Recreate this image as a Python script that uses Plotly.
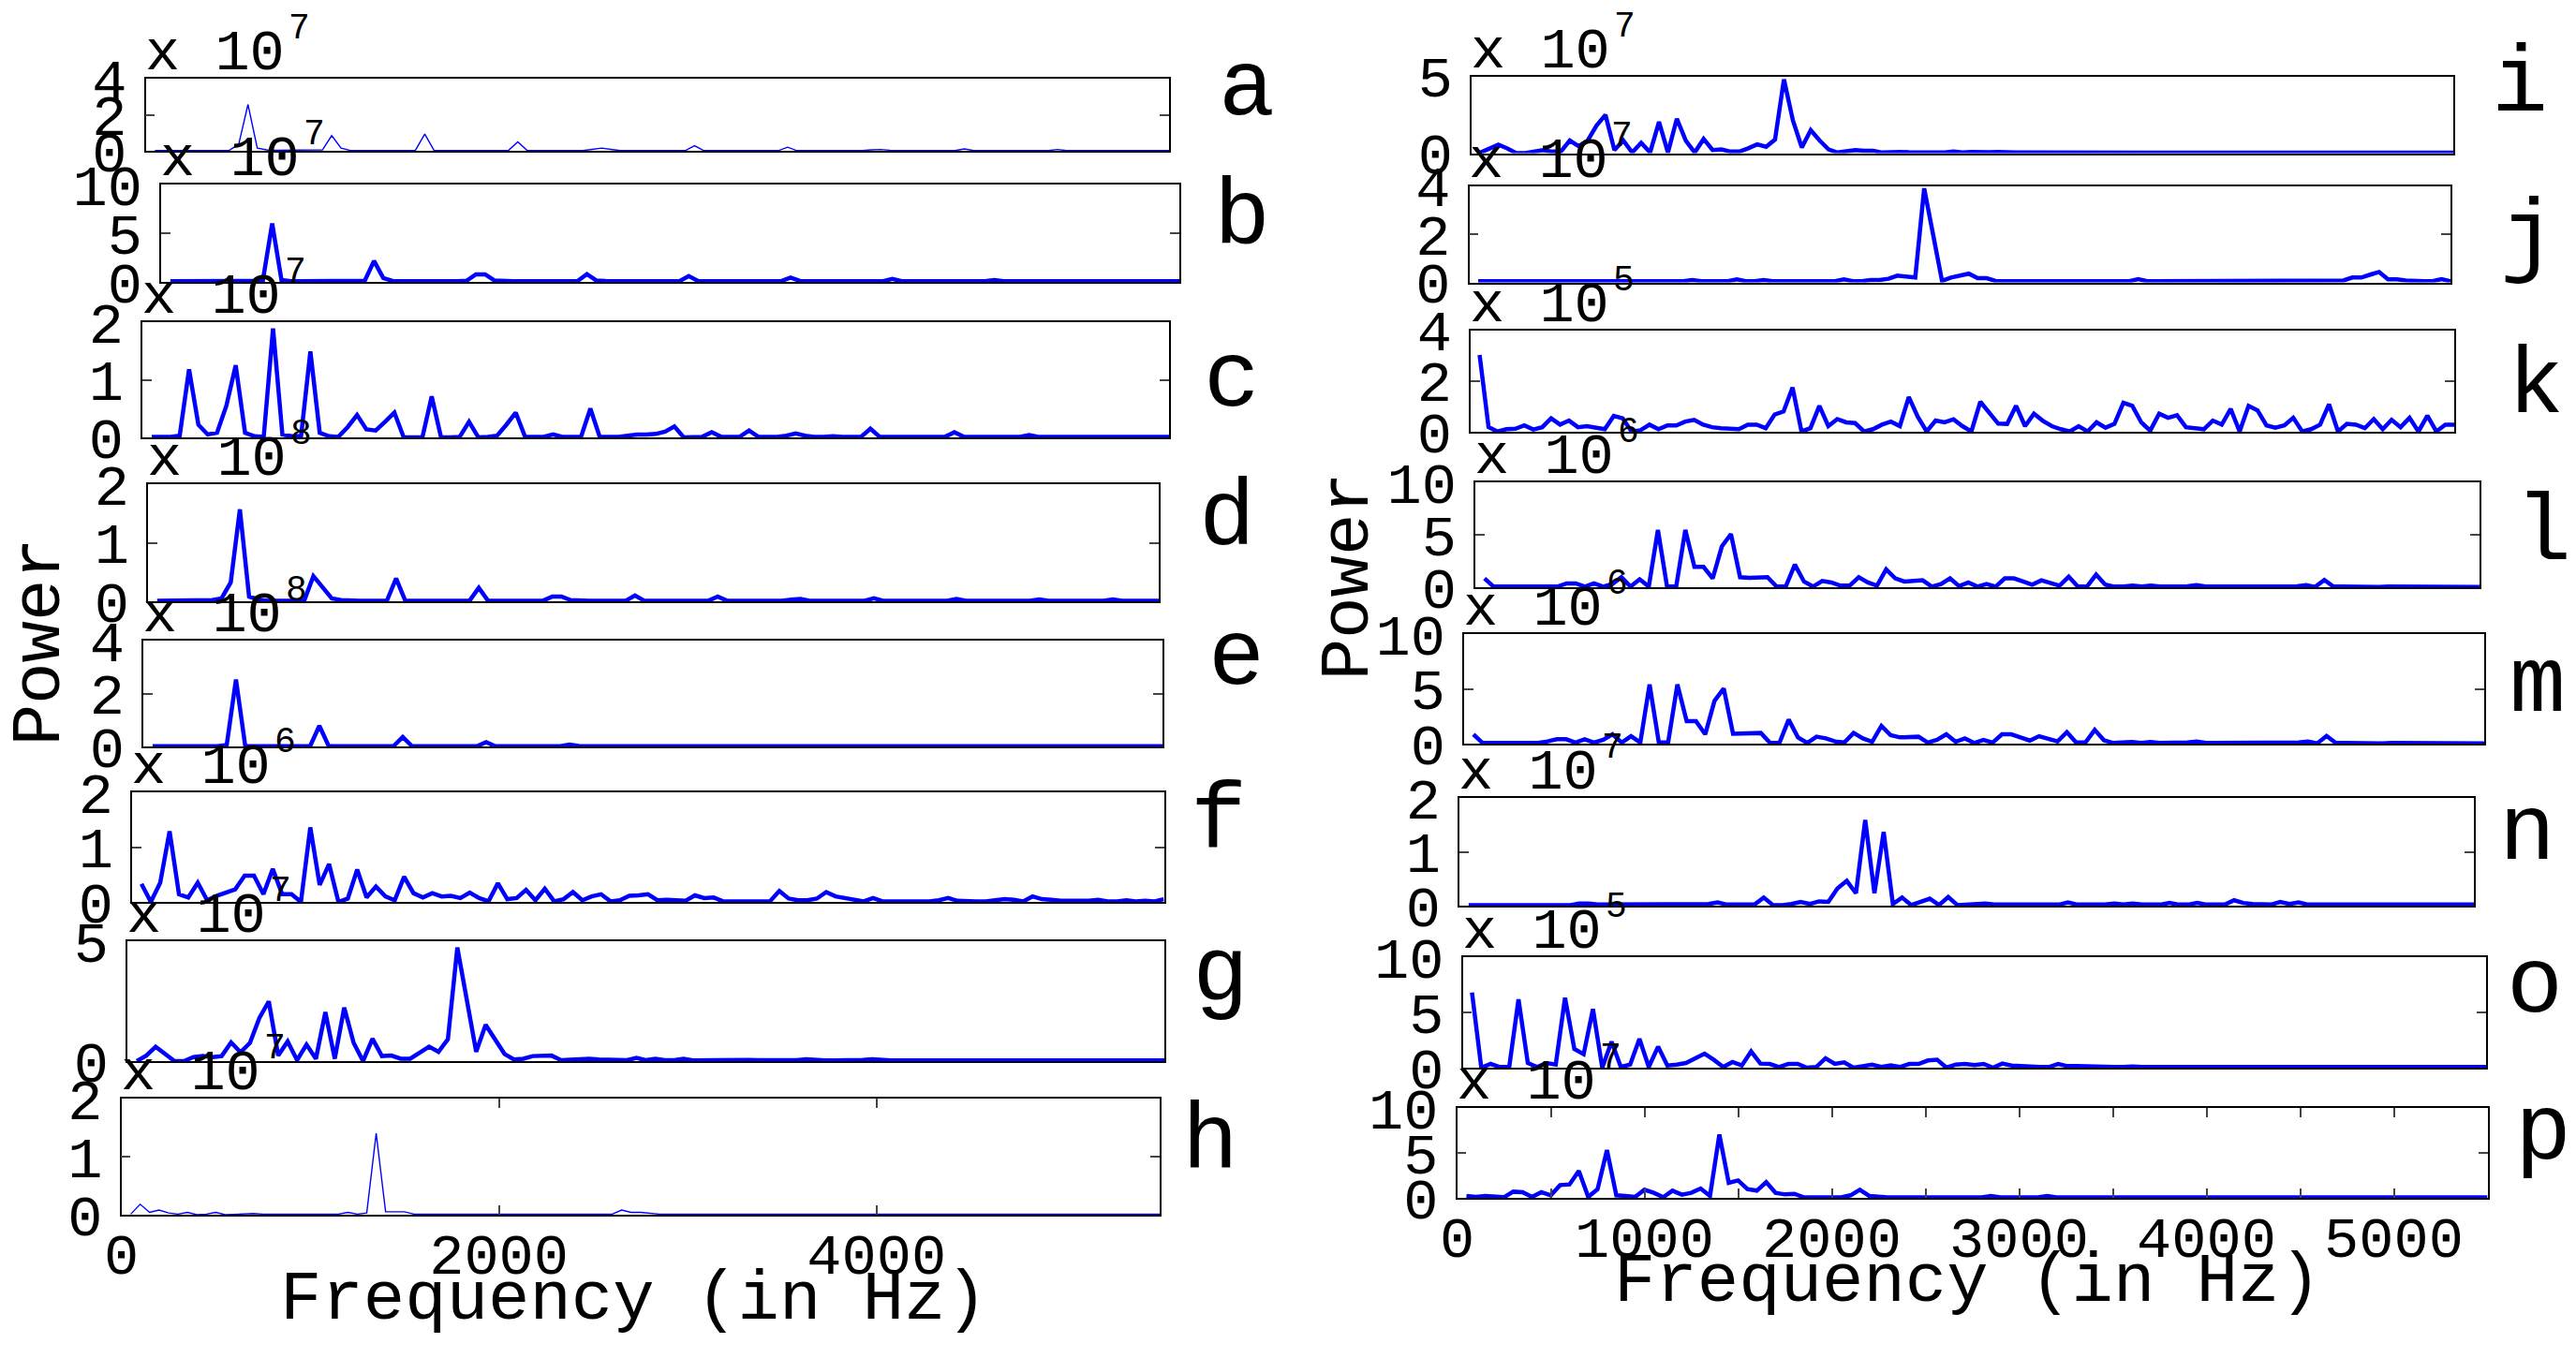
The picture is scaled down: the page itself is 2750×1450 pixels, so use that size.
import plotly.graph_objects as go

W, H = 2750, 1450
FONT = "Liberation Mono"

# Frequency bins (Hz) shared by all spectra
freq_hz = [50 * k for k in range(1, 111)]

# ---- Power spectra (values in units of the panel multiplier) ----
a_power = [
    0.02, 0.02, 0.02, 0.02, 0.02, 0.02, 0.02, 0.02, 0.03, 0.36,
    2.57, 0.15, 0.05, 0.03, 0.03, 0.03, 0.03, 0.03, 0.05, 0.84,
    0.15, 0.02, 0.02, 0.02, 0.02, 0.02, 0.02, 0.02, 0.03, 0.93,
    0.02, 0.01, 0.01, 0.01, 0.01, 0.01, 0.01, 0.01, 0.02, 0.50,
    0.02, 0.01, 0.01, 0.01, 0.01, 0.01, 0.01, 0.08, 0.15, 0.08,
    0.01, 0.01, 0.01, 0.01, 0.01, 0.01, 0.01, 0.01, 0.28, 0.01,
    0.01, 0.01, 0.01, 0.01, 0.01, 0.01, 0.01, 0.01, 0.20, 0.01,
    0.01, 0.01, 0.01, 0.01, 0.01, 0.01, 0.01, 0.05, 0.07, 0.03,
    0.01, 0.01, 0.01, 0.01, 0.01, 0.01, 0.01, 0.10, 0.01, 0.01,
    0.01, 0.01, 0.01, 0.01, 0.01, 0.01, 0.01, 0.07, 0.01, 0.01,
    0.01, 0.01, 0.01, 0.01, 0.01, 0.01, 0.01, 0.04, 0.01, 0.01]

b_power = [
    0.08, 0.08, 0.08, 0.08, 0.08, 0.08, 0.08, 0.08, 0.08, 0.10,
    0.20, 6.00, 0.20, 0.08, 0.08, 0.08, 0.08, 0.08, 0.08, 0.08,
    0.08, 0.12, 2.15, 0.40, 0.10, 0.08, 0.08, 0.08, 0.08, 0.08,
    0.08, 0.08, 0.12, 0.77, 0.77, 0.15, 0.08, 0.08, 0.08, 0.08,
    0.08, 0.08, 0.08, 0.08, 0.10, 0.80, 0.15, 0.10, 0.08, 0.08,
    0.08, 0.08, 0.08, 0.08, 0.08, 0.08, 0.60, 0.10, 0.08, 0.08,
    0.08, 0.08, 0.08, 0.08, 0.08, 0.08, 0.08, 0.45, 0.10, 0.08,
    0.08, 0.08, 0.08, 0.08, 0.08, 0.08, 0.08, 0.08, 0.30, 0.08,
    0.08, 0.08, 0.08, 0.08, 0.08, 0.08, 0.08, 0.08, 0.08, 0.20,
    0.08, 0.08, 0.08, 0.08, 0.08, 0.08, 0.08, 0.08, 0.08, 0.08,
    0.12, 0.08, 0.08, 0.08, 0.08, 0.08, 0.08, 0.08, 0.08, 0.08]

c_power = [
    0.01, 0.01, 0.01, 0.03, 1.18, 0.22, 0.05, 0.08, 0.55, 1.25,
    0.08, 0.02, 0.01, 1.89, 0.05, 0.02, 0.02, 1.49, 0.08, 0.02,
    0.01, 0.18, 0.39, 0.14, 0.12, 0.27, 0.43, 0.00, 0.00, 0.00,
    0.71, 0.00, 0.00, 0.01, 0.27, 0.00, 0.01, 0.03, 0.22, 0.43,
    0.01, 0.01, 0.01, 0.05, 0.01, 0.01, 0.01, 0.50, 0.01, 0.01,
    0.01, 0.03, 0.05, 0.05, 0.06, 0.10, 0.19, 0.00, 0.01, 0.01,
    0.09, 0.01, 0.01, 0.01, 0.12, 0.01, 0.01, 0.01, 0.03, 0.07,
    0.03, 0.01, 0.01, 0.02, 0.01, 0.01, 0.01, 0.15, 0.01, 0.01,
    0.01, 0.01, 0.01, 0.01, 0.01, 0.01, 0.09, 0.01, 0.01, 0.01,
    0.02, 0.01, 0.01, 0.01, 0.04, 0.01, 0.01, 0.01, 0.01, 0.02,
    0.01, 0.01, 0.01, 0.01, 0.01, 0.01, 0.01, 0.02, 0.01, 0.01]

d_power = [
    0.01, 0.01, 0.01, 0.01, 0.01, 0.01, 0.02, 0.05, 0.32, 1.57,
    0.08, 0.03, 0.01, 0.01, 0.01, 0.01, 0.01, 0.43, 0.24, 0.05,
    0.02, 0.01, 0.01, 0.01, 0.01, 0.01, 0.39, 0.01, 0.01, 0.01,
    0.01, 0.01, 0.01, 0.01, 0.01, 0.23, 0.01, 0.01, 0.01, 0.01,
    0.01, 0.01, 0.01, 0.08, 0.08, 0.02, 0.01, 0.01, 0.01, 0.01,
    0.01, 0.01, 0.10, 0.01, 0.01, 0.01, 0.01, 0.01, 0.01, 0.01,
    0.01, 0.08, 0.01, 0.01, 0.01, 0.01, 0.01, 0.01, 0.01, 0.03,
    0.04, 0.01, 0.01, 0.01, 0.01, 0.01, 0.01, 0.01, 0.05, 0.01,
    0.01, 0.01, 0.01, 0.01, 0.01, 0.01, 0.01, 0.04, 0.01, 0.01,
    0.01, 0.01, 0.01, 0.01, 0.01, 0.01, 0.03, 0.01, 0.01, 0.01,
    0.01, 0.01, 0.01, 0.01, 0.03, 0.01, 0.01, 0.01, 0.01, 0.01]

e_power = [
    0.01, 0.01, 0.01, 0.01, 0.01, 0.01, 0.01, 0.01, 0.05, 2.53,
    0.02, 0.01, 0.01, 0.01, 0.01, 0.01, 0.01, 0.01, 0.78, 0.02,
    0.01, 0.01, 0.01, 0.01, 0.01, 0.01, 0.01, 0.36, 0.01, 0.01,
    0.01, 0.01, 0.01, 0.01, 0.01, 0.01, 0.16, 0.01, 0.01, 0.01,
    0.01, 0.01, 0.01, 0.01, 0.01, 0.07, 0.02, 0.01, 0.01, 0.01,
    0.01, 0.01, 0.01, 0.04, 0.04, 0.01, 0.01, 0.01, 0.01, 0.01,
    0.01, 0.01, 0.04, 0.01, 0.01, 0.01, 0.01, 0.01, 0.01, 0.01,
    0.01, 0.03, 0.01, 0.01, 0.01, 0.01, 0.01, 0.01, 0.01, 0.01,
    0.03, 0.01, 0.01, 0.01, 0.01, 0.01, 0.01, 0.01, 0.01, 0.03,
    0.01, 0.01, 0.01, 0.01, 0.01, 0.01, 0.01, 0.01, 0.03, 0.01,
    0.01, 0.01, 0.01, 0.01, 0.01, 0.01, 0.01, 0.03, 0.01, 0.01]

f_power = [
    0.33, 0.00, 0.35, 1.29, 0.14, 0.08, 0.35, 0.03, 0.11, 0.17,
    0.23, 0.48, 0.48, 0.14, 0.60, 0.14, 0.14, 0.00, 1.36, 0.31,
    0.69, 0.00, 0.06, 0.59, 0.08, 0.28, 0.10, 0.03, 0.46, 0.16,
    0.08, 0.16, 0.10, 0.11, 0.07, 0.17, 0.07, 0.01, 0.34, 0.05,
    0.07, 0.22, 0.03, 0.24, 0.01, 0.05, 0.18, 0.03, 0.10, 0.14,
    0.01, 0.03, 0.11, 0.12, 0.14, 0.03, 0.04, 0.03, 0.02, 0.12,
    0.07, 0.08, 0.01, 0.01, 0.01, 0.01, 0.01, 0.01, 0.20, 0.06,
    0.03, 0.03, 0.06, 0.18, 0.10, 0.07, 0.03, 0.01, 0.07, 0.01,
    0.01, 0.01, 0.01, 0.01, 0.01, 0.03, 0.07, 0.02, 0.01, 0.01,
    0.01, 0.03, 0.05, 0.04, 0.01, 0.10, 0.05, 0.04, 0.02, 0.02,
    0.02, 0.02, 0.04, 0.01, 0.01, 0.03, 0.01, 0.02, 0.01, 0.05]

g_power = [
    0.00, 0.23, 0.60, 0.30, 0.00, 0.00, 0.17, 0.21, 0.17, 0.21,
    0.78, 0.37, 0.76, 1.80, 2.49, 0.23, 0.82, 0.04, 0.69, 0.10,
    2.04, 0.10, 2.23, 0.76, 0.00, 0.93, 0.21, 0.23, 0.10, 0.10,
    0.37, 0.60, 0.39, 0.91, 4.74, 2.56, 0.39, 1.51, 0.89, 0.30,
    0.07, 0.10, 0.21, 0.20, 0.23, 0.04, 0.07, 0.10, 0.10, 0.07,
    0.07, 0.08, 0.04, 0.13, 0.04, 0.10, 0.04, 0.04, 0.10, 0.03,
    0.04, 0.05, 0.04, 0.03, 0.04, 0.05, 0.04, 0.04, 0.03, 0.04,
    0.04, 0.08, 0.04, 0.03, 0.03, 0.03, 0.04, 0.05, 0.08, 0.04,
    0.03, 0.03, 0.03, 0.03, 0.03, 0.03, 0.03, 0.03, 0.03, 0.03,
    0.03, 0.03, 0.03, 0.03, 0.03, 0.03, 0.03, 0.03, 0.03, 0.03,
    0.03, 0.03, 0.03, 0.03, 0.03, 0.03, 0.03, 0.03, 0.03, 0.03]

h_power = [
    0.01, 0.18, 0.04, 0.08, 0.03, 0.01, 0.04, 0.00, 0.01, 0.04,
    0.00, 0.01, 0.01, 0.02, 0.01, 0.01, 0.01, 0.01, 0.01, 0.01,
    0.01, 0.01, 0.01, 0.04, 0.01, 0.03, 1.40, 0.05, 0.05, 0.05,
    0.01, 0.01, 0.01, 0.01, 0.01, 0.01, 0.02, 0.01, 0.01, 0.01,
    0.01, 0.01, 0.01, 0.01, 0.01, 0.01, 0.01, 0.01, 0.01, 0.01,
    0.01, 0.01, 0.08, 0.04, 0.04, 0.02, 0.01, 0.01, 0.01, 0.01,
    0.01, 0.01, 0.01, 0.01, 0.01, 0.01, 0.01, 0.01, 0.01, 0.01,
    0.01, 0.01, 0.01, 0.01, 0.01, 0.01, 0.01, 0.01, 0.01, 0.02,
    0.01, 0.01, 0.01, 0.01, 0.01, 0.01, 0.01, 0.01, 0.01, 0.01,
    0.01, 0.01, 0.01, 0.01, 0.01, 0.01, 0.01, 0.01, 0.01, 0.01,
    0.01, 0.01, 0.01, 0.01, 0.01, 0.01, 0.01, 0.01, 0.01, 0.01]

i_power = [
    0.04, 0.31, 0.55, 0.31, 0.00, 0.00, 0.10, 0.20, 0.10, 0.10,
    0.82, 0.45, 0.82, 1.80, 2.49, 0.20, 0.82, 0.04, 0.67, 0.04,
    2.04, 0.04, 2.24, 0.82, 0.04, 0.92, 0.20, 0.24, 0.10, 0.10,
    0.31, 0.57, 0.41, 0.88, 4.80, 2.14, 0.37, 1.49, 0.82, 0.24,
    0.04, 0.10, 0.20, 0.16, 0.16, 0.04, 0.08, 0.08, 0.06, 0.04,
    0.06, 0.04, 0.04, 0.10, 0.04, 0.08, 0.04, 0.06, 0.08, 0.04,
    0.05, 0.04, 0.04, 0.03, 0.04, 0.05, 0.03, 0.03, 0.04, 0.04,
    0.04, 0.07, 0.03, 0.03, 0.03, 0.03, 0.03, 0.05, 0.07, 0.03,
    0.03, 0.03, 0.03, 0.03, 0.03, 0.03, 0.03, 0.03, 0.03, 0.03,
    0.03, 0.03, 0.03, 0.03, 0.03, 0.03, 0.03, 0.03, 0.03, 0.03,
    0.03, 0.03, 0.03, 0.03, 0.03, 0.03, 0.03, 0.03, 0.03, 0.03]

j_power = [
    0.05, 0.05, 0.05, 0.05, 0.05, 0.05, 0.05, 0.05, 0.05, 0.05,
    0.05, 0.05, 0.05, 0.05, 0.05, 0.05, 0.05, 0.05, 0.05, 0.05,
    0.05, 0.05, 0.05, 0.05, 0.10, 0.05, 0.05, 0.05, 0.05, 0.12,
    0.05, 0.05, 0.10, 0.05, 0.05, 0.08, 0.05, 0.05, 0.05, 0.05,
    0.05, 0.12, 0.05, 0.05, 0.10, 0.10, 0.15, 0.28, 0.22, 0.20,
    3.90, 1.95, 0.06, 0.20, 0.30, 0.36, 0.17, 0.17, 0.06, 0.05,
    0.05, 0.05, 0.05, 0.05, 0.05, 0.05, 0.05, 0.05, 0.05, 0.05,
    0.05, 0.05, 0.05, 0.05, 0.13, 0.05, 0.05, 0.05, 0.05, 0.05,
    0.05, 0.05, 0.05, 0.05, 0.05, 0.05, 0.05, 0.05, 0.05, 0.05,
    0.05, 0.05, 0.05, 0.05, 0.05, 0.05, 0.05, 0.08, 0.20, 0.20,
    0.32, 0.43, 0.13, 0.13, 0.08, 0.05, 0.05, 0.05, 0.13, 0.05]

k_power = [
    3.02, 0.18, 0.01, 0.10, 0.12, 0.25, 0.09, 0.18, 0.53, 0.28,
    0.44, 0.18, 0.22, 0.18, 0.10, 0.62, 0.53, 0.01, 0.06, 0.28,
    0.10, 0.25, 0.25, 0.40, 0.47, 0.28, 0.18, 0.14, 0.10, 0.10,
    0.28, 0.28, 0.14, 0.68, 0.80, 1.74, 0.01, 0.14, 1.02, 0.22,
    0.50, 0.37, 0.34, 0.01, 0.10, 0.28, 0.40, 0.22, 1.37, 0.59,
    0.01, 0.44, 0.37, 0.49, 0.22, 0.01, 1.18, 0.78, 0.32, 0.31,
    1.02, 0.22, 0.71, 0.43, 0.22, 0.10, 0.01, 0.22, 0.01, 0.37,
    0.16, 0.31, 1.14, 1.02, 0.37, 0.04, 0.71, 0.55, 0.65, 0.18,
    0.14, 0.10, 0.44, 0.28, 0.90, 0.01, 1.02, 0.84, 0.25, 0.16,
    0.25, 0.55, 0.01, 0.10, 0.28, 1.08, 0.01, 0.31, 0.28, 0.14,
    0.50, 0.10, 0.47, 0.18, 0.55, 0.01, 0.63, 0.01, 0.28, 0.28]

l_power = [
    0.84, 0.06, 0.06, 0.06, 0.10, 0.06, 0.06, 0.06, 0.06, 0.36,
    0.36, 0.06, 0.36, 0.06, 0.30, 0.96, 0.06, 0.75, 0.06, 5.46,
    0.06, 0.06, 5.46, 1.94, 1.94, 0.84, 3.88, 5.07, 0.96, 0.90,
    0.90, 0.96, 0.06, 0.06, 2.15, 0.54, 0.06, 0.60, 0.45, 0.15,
    0.15, 0.96, 0.45, 0.15, 1.70, 0.84, 0.54, 0.60, 0.66, 0.06,
    0.30, 0.84, 0.10, 0.45, 0.06, 0.30, 0.06, 0.84, 0.84, 0.54,
    0.24, 0.66, 0.42, 0.15, 1.00, 0.06, 0.06, 1.20, 0.24, 0.06,
    0.06, 0.15, 0.06, 0.15, 0.06, 0.06, 0.10, 0.10, 0.20, 0.06,
    0.06, 0.06, 0.06, 0.06, 0.15, 0.06, 0.06, 0.06, 0.06, 0.10,
    0.20, 0.03, 0.69, 0.06, 0.06, 0.03, 0.06, 0.06, 0.03, 0.06,
    0.06, 0.05, 0.06, 0.05, 0.06, 0.06, 0.06, 0.10, 0.06, 0.03]

m_power = [
    0.85, 0.06, 0.06, 0.10, 0.06, 0.06, 0.06, 0.06, 0.20, 0.40,
    0.40, 0.10, 0.40, 0.10, 0.34, 0.85, 0.10, 0.68, 0.10, 5.40,
    0.10, 0.10, 5.40, 2.05, 2.05, 0.85, 3.90, 5.03, 0.90, 0.90,
    0.90, 0.97, 0.06, 0.06, 2.19, 0.57, 0.06, 0.63, 0.48, 0.20,
    0.10, 0.97, 0.48, 0.17, 1.62, 0.77, 0.57, 0.57, 0.63, 0.10,
    0.34, 0.85, 0.17, 0.48, 0.06, 0.34, 0.10, 0.85, 0.85, 0.57,
    0.28, 0.68, 0.40, 0.20, 1.05, 0.10, 0.10, 1.25, 0.30, 0.06,
    0.10, 0.15, 0.06, 0.15, 0.06, 0.06, 0.10, 0.10, 0.20, 0.06,
    0.06, 0.06, 0.06, 0.06, 0.15, 0.06, 0.06, 0.06, 0.06, 0.10,
    0.20, 0.03, 0.70, 0.06, 0.06, 0.03, 0.06, 0.06, 0.03, 0.06,
    0.06, 0.05, 0.06, 0.05, 0.06, 0.06, 0.06, 0.10, 0.06, 0.03]

n_power = [
    0.01, 0.01, 0.01, 0.01, 0.01, 0.01, 0.01, 0.01, 0.01, 0.01,
    0.01, 0.01, 0.04, 0.04, 0.02, 0.02, 0.02, 0.02, 0.02, 0.02,
    0.02, 0.02, 0.02, 0.02, 0.02, 0.02, 0.03, 0.06, 0.02, 0.02,
    0.02, 0.02, 0.15, 0.01, 0.01, 0.03, 0.07, 0.03, 0.08, 0.07,
    0.32, 0.46, 0.23, 1.59, 0.23, 1.37, 0.03, 0.15, 0.01, 0.07,
    0.13, 0.01, 0.16, 0.01, 0.02, 0.02, 0.04, 0.02, 0.02, 0.02,
    0.02, 0.02, 0.02, 0.02, 0.02, 0.06, 0.02, 0.02, 0.02, 0.02,
    0.04, 0.02, 0.04, 0.02, 0.02, 0.02, 0.05, 0.02, 0.02, 0.05,
    0.02, 0.02, 0.02, 0.10, 0.05, 0.03, 0.02, 0.02, 0.07, 0.03,
    0.06, 0.02, 0.02, 0.02, 0.02, 0.02, 0.02, 0.02, 0.02, 0.02,
    0.02, 0.02, 0.02, 0.02, 0.02, 0.02, 0.02, 0.02, 0.02, 0.02]

o_power = [
    6.80, 0.00, 0.34, 0.06, 0.06, 6.18, 0.42, 0.06, 0.42, 0.28,
    6.32, 1.70, 1.22, 5.30, 0.00, 2.35, 0.06, 0.28, 2.61, 0.06,
    1.90, 0.20, 0.28, 0.42, 0.85, 1.27, 0.71, 0.06, 0.51, 0.20,
    1.47, 0.37, 0.34, 0.06, 0.34, 0.34, 0.00, 0.06, 0.85, 0.34,
    0.48, 0.00, 0.14, 0.28, 0.06, 0.20, 0.06, 0.34, 0.34, 0.65,
    0.71, 0.00, 0.28, 0.34, 0.23, 0.34, 0.00, 0.37, 0.20, 0.20,
    0.11, 0.06, 0.06, 0.34, 0.14, 0.14, 0.10, 0.08, 0.06, 0.06,
    0.06, 0.11, 0.06, 0.06, 0.06, 0.06, 0.06, 0.06, 0.06, 0.06,
    0.06, 0.06, 0.06, 0.11, 0.06, 0.06, 0.06, 0.06, 0.06, 0.10,
    0.06, 0.06, 0.06, 0.15, 0.06, 0.06, 0.06, 0.06, 0.06, 0.06,
    0.06, 0.15, 0.06, 0.06, 0.06, 0.06, 0.06, 0.06, 0.06, 0.06]

p_power = [
    0.21, 0.10, 0.21, 0.10, 0.07, 0.69, 0.63, 0.10, 0.63, 0.28,
    1.42, 1.49, 2.99, 0.10, 0.97, 5.31, 0.28, 0.21, 0.10, 0.90,
    0.56, 0.07, 0.80, 0.35, 0.56, 1.04, 0.21, 7.05, 1.67, 1.94,
    0.97, 0.80, 1.74, 0.56, 0.38, 0.45, 0.07, 0.05, 0.05, 0.05,
    0.05, 0.28, 0.90, 0.21, 0.10, 0.05, 0.05, 0.05, 0.05, 0.05,
    0.05, 0.05, 0.05, 0.05, 0.05, 0.05, 0.20, 0.05, 0.05, 0.05,
    0.05, 0.05, 0.20, 0.05, 0.05, 0.05, 0.05, 0.05, 0.05, 0.05,
    0.05, 0.05, 0.05, 0.05, 0.05, 0.05, 0.05, 0.05, 0.05, 0.05,
    0.05, 0.05, 0.05, 0.05, 0.05, 0.05, 0.05, 0.05, 0.05, 0.05,
    0.05, 0.05, 0.05, 0.05, 0.05, 0.05, 0.05, 0.05, 0.05, 0.05,
    0.05, 0.05, 0.05, 0.05, 0.05, 0.05, 0.05, 0.05, 0.05, 0.05]

panel_letters = list("abcdefghijklmnop")
panel_series = [a_power, b_power, c_power, d_power, e_power, f_power, g_power, h_power,
                i_power, j_power, k_power, l_power, m_power, n_power, o_power, p_power]
panel_exponent = [7, 7, 7, 8, 8, 6, 7, 7, 7, 7, 5, 6, 6, 7, 5, 7]
panel_ymax = [4, 10, 2, 2, 4, 2, 5, 2, 5, 4, 4, 10, 10, 2, 10, 10]
panel_yticks = [[0, 2, 4], [0, 5, 10], [0, 1, 2], [0, 1, 2], [0, 2, 4], [0, 1, 2], [0, 5], [0, 1, 2],
                [0, 5], [0, 2, 4], [0, 2, 4], [0, 5, 10], [0, 5, 10], [0, 1, 2], [0, 5, 10], [0, 5, 10]]
h_xticks = [0, 2000, 4000]
p_xticks = [0, 500, 1000, 1500, 2000, 2500, 3000, 3500, 4000, 4500, 5000]
p_xticklabels = ["0", "", "1000", "", "2000", "", "3000", "", "4000", "", "5000"]
x_label = "Frequency (in Hz)"
y_label = "Power"

# ---- layout geometry (pixels): left, right, top, bottom of each box ----
boxes = [
    (155.5, 1248, 84, 161), (172, 1259, 197, 301), (152, 1248, 344, 467), (158, 1237, 517, 642),
    (153, 1241, 684, 797), (141, 1242.5, 846, 963), (136, 1243, 1005, 1133), (129.5, 1238, 1173, 1297),
    (1571, 2619, 81.5, 163.5), (1568.5, 2616, 198.5, 301.5), (1570, 2620, 352.5, 461), (1575, 2647, 515, 627),
    (1563, 2652, 677, 794), (1558, 2641, 852, 967), (1561.5, 2654, 1022, 1140), (1555.5, 2655.5, 1183, 1279),
]
letter_pos = [  # glyph centre x, baseline y
    (1331, 122), (1326, 260), (1315, 433), (1310, 581), (1320, 730), (1301, 905), (1303, 1068), (1292, 1247),
    (2690, 118), (2699, 282), (2707, 440), (2715, 597), (2709, 759), (2698, 917), (2706, 1080), (2715, 1237),
]
thin_panels = {"a", "h"}

LETTER_FS = 100
TICK_FS = 62
EXP_FS = 62
SUP_FS = 38
LABEL_FS = 74
ASC_OFF = 0.266  # baseline offset below text-box centre, in em


def px(x):
    return x / W


def py(y):
    return 1 - y / H


fig = go.Figure()
layout = dict(
    width=W, height=H, margin=dict(l=0, r=0, t=0, b=0, autoexpand=False),
    paper_bgcolor="white", plot_bgcolor="white", showlegend=False,
    font=dict(family=FONT, color="black", size=TICK_FS),
)
annotations = []

for idx, letter in enumerate(panel_letters):
    n = idx + 1
    sfx = "" if n == 1 else str(n)
    left, right, top, bottom = boxes[idx]
    xa = dict(
        domain=[px(left), px(right)], range=[0, 5500], anchor="y" + sfx, automargin=False,
        showgrid=False, zeroline=False, showline=True, linecolor="black", linewidth=1.5,
        fixedrange=True,
    )
    if letter == "h":
        xa.update(tickmode="array", tickvals=h_xticks, ticktext=[str(v) for v in h_xticks],
                  ticks="inside", ticklen=10, tickwidth=1.5, tickcolor="#444", mirror="ticks",
                  showticklabels=True, tickfont=dict(size=TICK_FS, family=FONT),
                  ticklabelstandoff=-13)
    elif letter == "p":
        xa.update(tickmode="array", tickvals=p_xticks, ticktext=p_xticklabels,
                  ticks="inside", ticklen=10, tickwidth=1.5, tickcolor="#444", mirror="ticks",
                  showticklabels=True, tickfont=dict(size=TICK_FS, family=FONT),
                  ticklabelstandoff=-13)
    else:
        xa.update(ticks="", showticklabels=False, mirror=True)
    ya = dict(
        domain=[py(bottom), py(top)], range=[0, panel_ymax[idx]], anchor="x" + sfx, automargin=False,
        showgrid=False, zeroline=False, showline=True, linecolor="black", linewidth=1.5,
        mirror="ticks", ticks="inside", ticklen=10, tickwidth=1.5, tickcolor="#444",
        tickmode="array", tickvals=panel_yticks[idx], ticktext=[str(v) for v in panel_yticks[idx]],
        tickfont=dict(size=TICK_FS, family=FONT), ticklabelstandoff=6, fixedrange=True,
    )
    layout["xaxis" + sfx] = xa
    layout["yaxis" + sfx] = ya

    fig.add_trace(go.Scatter(
        x=freq_hz, y=panel_series[idx], mode="lines",
        line=dict(color="#0000ff", width=1.4 if letter in thin_panels else 4.5),
        xaxis="x" + sfx, yaxis="y" + sfx, hoverinfo="skip",
    ))

    # multiplier label "x 10^N"
    annotations.append(dict(
        x=px(left - 3), y=py(top - 10 - ASC_OFF * EXP_FS), xref="paper", yref="paper",
        text="x 10", showarrow=False, xanchor="left", yanchor="middle",
        font=dict(size=EXP_FS, family=FONT, color="black"),
    ))
    annotations.append(dict(
        x=px(left + 150), y=py(top - 43 - ASC_OFF * SUP_FS), xref="paper", yref="paper",
        text=str(panel_exponent[idx]), showarrow=False, xanchor="left", yanchor="middle",
        font=dict(size=SUP_FS, family=FONT, color="black"),
    ))
    # panel letter
    lx, lb = letter_pos[idx]
    annotations.append(dict(
        x=px(lx), y=py(lb - ASC_OFF * LETTER_FS), xref="paper", yref="paper",
        text=letter, showarrow=False, xanchor="center", yanchor="middle",
        font=dict(size=LETTER_FS, family=FONT, color="black"),
    ))

# axis titles
for cx, base in [(676, 1408), (2100, 1389)]:
    annotations.append(dict(
        x=px(cx), y=py(base - ASC_OFF * LABEL_FS), xref="paper", yref="paper",
        text=x_label, showarrow=False, xanchor="center", yanchor="middle",
        font=dict(size=LABEL_FS, family=FONT, color="black"),
    ))
for bx, cy in [(63, 685), (1460, 615)]:
    annotations.append(dict(
        x=px(bx - ASC_OFF * LABEL_FS), y=py(cy), xref="paper", yref="paper",
        text=y_label, showarrow=False, xanchor="center", yanchor="middle", textangle=-90,
        font=dict(size=LABEL_FS, family=FONT, color="black"),
    ))

layout["annotations"] = annotations
fig.update_layout(**layout)
fig.write_html("out.html")
